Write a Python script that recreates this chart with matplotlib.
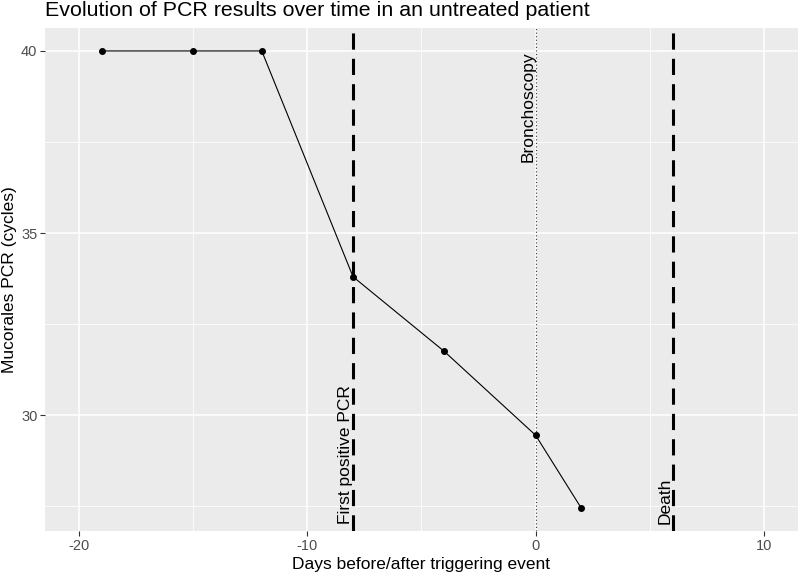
import matplotlib
matplotlib.use("Agg")
import matplotlib.pyplot as plt

plt.rcParams['font.family'] = ['Liberation Sans', 'DejaVu Sans']
plt.rcParams['axes.unicode_minus'] = False

# PCR results (cycles) by day relative to the triggering event
days = [-19, -15, -12, -8, -4, 0, 2]
pcr_cycles = [40, 40, 40, 33.8, 31.75, 29.45, 27.45]

# events drawn as vertical lines
event_labels = ["First positive PCR", "Bronchoscopy", "Death"]
event_days = [-8, 0, 6]
event_label_y = [27, 40, 27]

x_ticks = [-20, -10, 0, 10]
y_ticks = [30, 35, 40]

fig = plt.figure(figsize=(7.98, 5.77), dpi=100)
ax = fig.add_axes([45 / 798, 1 - 531 / 577, 753 / 798, 503 / 577])

ax.set_facecolor('#EBEBEB')
for s in ax.spines.values():
    s.set_visible(False)

ax.set_xlim(-21.5, 11.5)
ax.set_ylim(26.82, 40.63)
ax.set_xticks(x_ticks)
ax.set_yticks(y_ticks)
ax.set_xticks([-15, -5, 5], minor=True)
ax.set_yticks([27.5, 32.5, 37.5], minor=True)
ax.grid(which='major', color='white', linewidth=1.1)
ax.grid(which='minor', color='white', linewidth=0.55)
ax.set_axisbelow(True)
ax.tick_params(which='major', length=3.5, width=0.8, color='#333333',
               labelcolor='#4D4D4D', labelsize=10.5, pad=2)
ax.tick_params(which='minor', length=0)

ax.set_xlabel("Days before/after triggering event", fontsize=12.5, labelpad=3)
ax.set_ylabel("Mucorales PCR (cycles)", fontsize=12.5, labelpad=3)

ax.plot(days, pcr_cycles, color='black', linewidth=0.8, zorder=3)
ax.scatter(days, pcr_cycles, color='black', s=16, zorder=4)

for lab, d, ly in zip(event_labels, event_days, event_label_y):
    if lab == "Bronchoscopy":
        ax.axvline(d, color='#333333', linewidth=0.8, linestyle=(0, (1, 2.2)), zorder=2)
        ax.text(d, ly, lab, rotation=90, rotation_mode='anchor', ha='right',
                va='bottom', fontsize=12.5, zorder=5)
    else:
        ax.axvline(d, color='black', linewidth=2.2, linestyle=(0, (5.3, 3)), zorder=2)
        ax.text(d, ly, lab, rotation=90, rotation_mode='anchor', ha='left',
                va='bottom', fontsize=12.5, zorder=5)

fig.text(45 / 798, 1 - 16 / 577, "Evolution of PCR results over time in an untreated patient",
         fontsize=15.4, va='baseline', ha='left')

fig.savefig("out.png", dpi=100)
